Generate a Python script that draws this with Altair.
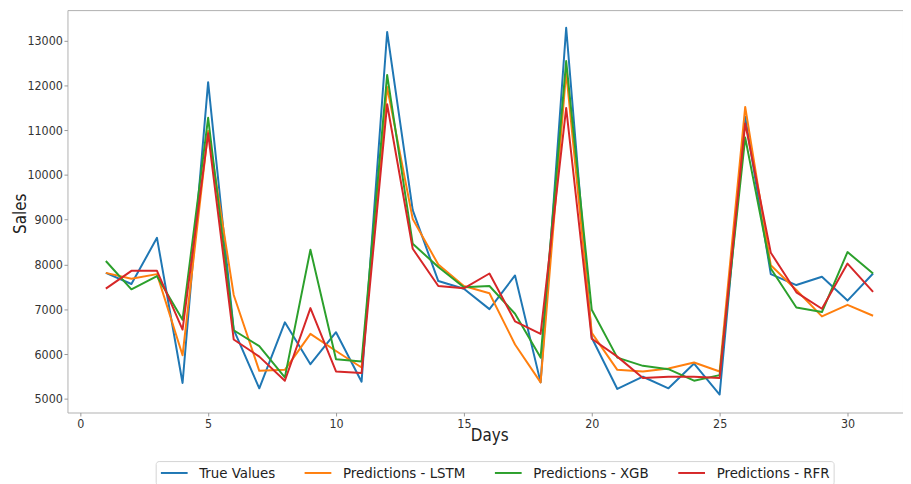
import altair as alt
import pandas as pd

days = [1, 2, 3, 4, 5, 6, 7, 8, 9, 10, 11, 12, 13, 14, 15, 16,
        17, 18, 19, 20, 21, 22, 23, 24, 25, 26, 27, 28, 29, 30, 31]

true_vals = [7813, 7564, 8595, 5354, 12072, 6547, 5236, 6709, 5773, 6488, 5383,
             13191, 9214, 7630, 7460, 7003, 7755, 5368, 13287, 6363, 5221, 5494,
             5236, 5788, 5096, 11298, 7785, 7541, 7725, 7194, 7799]
lstm_vals = [7813, 7681, 7785, 5972, 10982, 7320, 5626, 5648, 6451, 6068, 5700,
             11961, 9015, 7998, 7519, 7357, 6215, 5368, 12300, 6473, 5648, 5612,
             5678, 5811, 5612, 11519, 7983, 7431, 6841, 7099, 6856]
xgb_vals = [8078, 7446, 7740, 6768, 11276, 6532, 6178, 5479, 8330, 5884, 5833,
            12233, 8462, 7946, 7490, 7519, 6901, 5921, 12543, 6989, 5921, 5737,
            5663, 5405, 5530, 10834, 7910, 7040, 6938, 8278, 7799]
rfr_vals = [7460, 7858, 7858, 6547, 10930, 6326, 5943, 5405, 7026, 5612, 5575,
            11579, 8352, 7519, 7468, 7799, 6731, 6451, 11497, 6341, 5943, 5464,
            5494, 5494, 5464, 11150, 8264, 7379, 7011, 8020, 7387]

series_names = ["True Values", "Predictions - LSTM", "Predictions - XGB", "Predictions - RFR"]
series_colors = ["#1f77b4", "#ff7f0e", "#2ca02c", "#d62728"]
x_ticks = [0, 5, 10, 15, 20, 25, 30]
y_ticks = [5000, 6000, 7000, 8000, 9000, 10000, 11000, 12000, 13000]

rows = []
for name, vals in zip(series_names, [true_vals, lstm_vals, xgb_vals, rfr_vals]):
    for d, v in zip(days, vals):
        rows.append({"Day": d, "Sales": v, "Series": name})
df = pd.DataFrame(rows)

FONT = "DejaVu Sans Condensed, DejaVu Sans"

chart = alt.Chart(df).mark_line(strokeWidth=2, strokeJoin="round", clip=True).encode(
    x=alt.X("Day:Q",
            scale=alt.Scale(domain=[-0.5, 32.17], nice=False, zero=False),
            axis=alt.Axis(values=x_ticks, title="Days", grid=False, domain=False,
                          tickSize=3.5, tickColor="#999999", labelPadding=1.5,
                          labelFontSize=12.5, labelColor="#333333", labelFont=FONT,
                          titleFont=FONT, titleFontSize=17, titleFontWeight="normal",
                          titleColor="#222222", titleX=425.5, titleY=28.5,
                          titleBaseline="alphabetic", titleAlign="center")),
    y=alt.Y("Sales:Q",
            scale=alt.Scale(domain=[4695, 13680], nice=False, zero=False),
            axis=alt.Axis(values=y_ticks, format="d", title="Sales", grid=False, domain=False,
                          tickSize=3.5, tickColor="#999999", labelPadding=1.7,
                          labelFontSize=12.5, labelColor="#333333", labelFont=FONT,
                          titleFont=FONT, titleFontSize=17, titleFontWeight="normal",
                          titleColor="#222222", titleX=-47, titleY=205,
                          titleBaseline="middle", titleAlign="center", titleAngle=270)),
    color=alt.Color("Series:N",
                    scale=alt.Scale(domain=series_names, range=series_colors),
                    legend=alt.Legend(title=None, orient="none", legendX=89, legendY=455,
                                      direction="horizontal", columns=4,
                                      symbolType="M-1,0H3", symbolSize=182,
                                      symbolStrokeWidth=2, labelOffset=24,
                                      columnPadding=25, padding=4,
                                      strokeColor="#d5d5d5", cornerRadius=3,
                                      fillColor="white", labelFont=FONT,
                                      labelFontSize=15, labelColor="#222222",
                                      labelLimit=400)),
).properties(
    width=843, height=406,
    padding={"left": 60, "top": 0, "right": 0, "bottom": 70},
    autosize=alt.AutoSizeParams(type="none"),
).configure_view(stroke="#b0b0b0", strokeWidth=1)

chart.save("out.html", embed_options={"renderer": "svg", "actions": False})
